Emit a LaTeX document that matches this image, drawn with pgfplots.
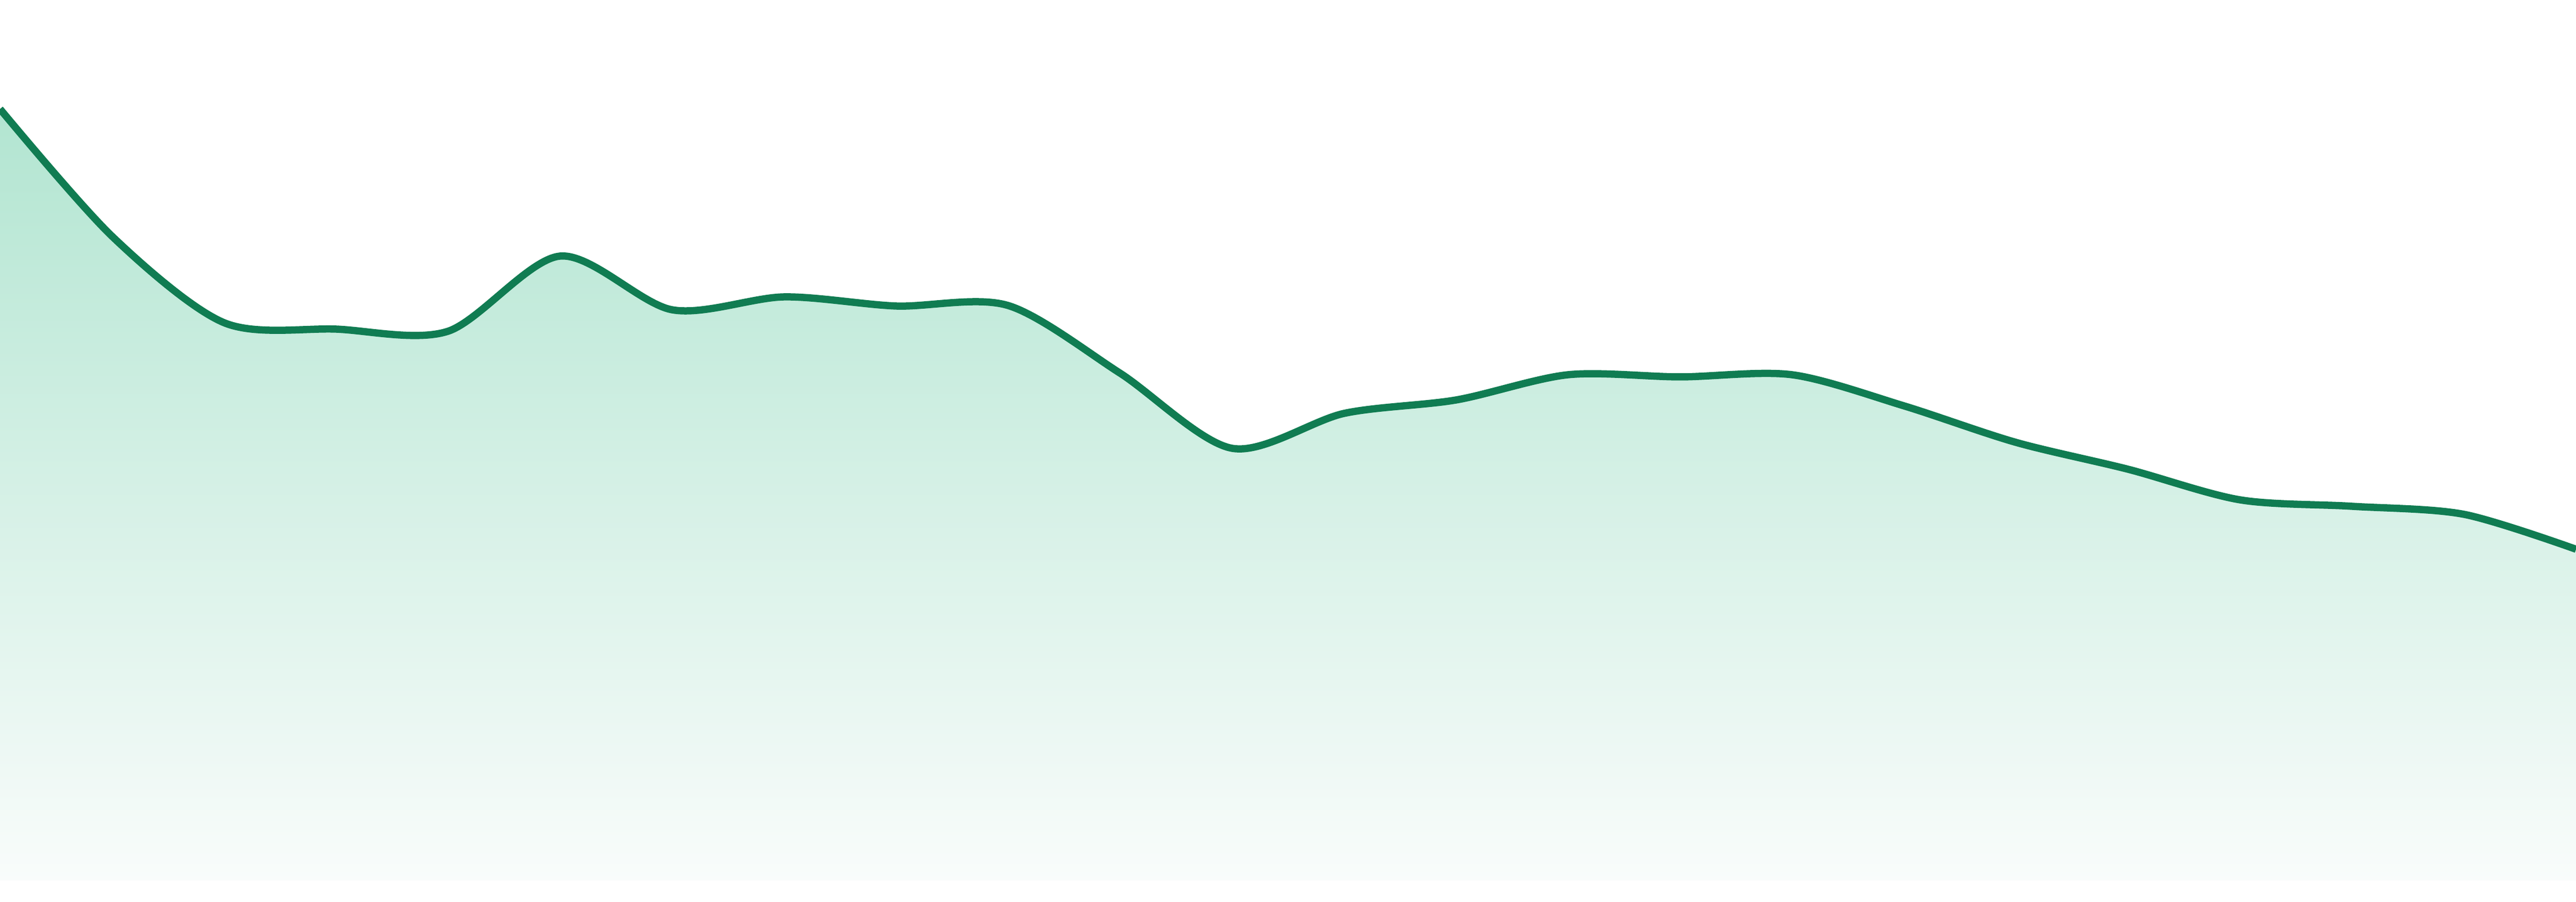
\documentclass[border=0pt]{standalone}
\usepackage{pgfplots}
\pgfplotsset{compat=1.18}

\definecolor{linegreen}{RGB}{16,124,82}
\definecolor{filltop}{RGB}{178,229,209}
\definecolor{fillbottom}{RGB}{249,252,251}

\begin{document}
\begin{tikzpicture}
\begin{axis}[
    width=480pt,
    height=168pt,
    scale only axis,
    ticks=none,
    axis line style={draw=none},
    xmin=0, xmax=23,
    ymin=-40, ymax=1640,
]
% values, pixels above the base of the area
\addplot[draw=none, top color=filltop, bottom color=fillbottom, smooth, tension=0.5]
  coordinates {
  (0,1437) (1,1200) (2,1039) (3,1027) (4,1023) (5,1163) (6,1063) (7,1087)
  (8,1070) (9,1071) (10,945) (11,805) (12,870) (13,895) (14,942) (15,938)
  (16,942) (17,884) (18,816) (19,766) (20,709) (21,697) (22,682) (23,617)
  } \closedcycle;
\addplot[linegreen, line width=1.35pt, smooth, tension=0.5, line join=round]
  coordinates {
  (0,1437) (1,1200) (2,1039) (3,1027) (4,1023) (5,1163) (6,1063) (7,1087)
  (8,1070) (9,1071) (10,945) (11,805) (12,870) (13,895) (14,942) (15,938)
  (16,942) (17,884) (18,816) (19,766) (20,709) (21,697) (22,682) (23,617)
  };
\end{axis}
\end{tikzpicture}
\end{document}
